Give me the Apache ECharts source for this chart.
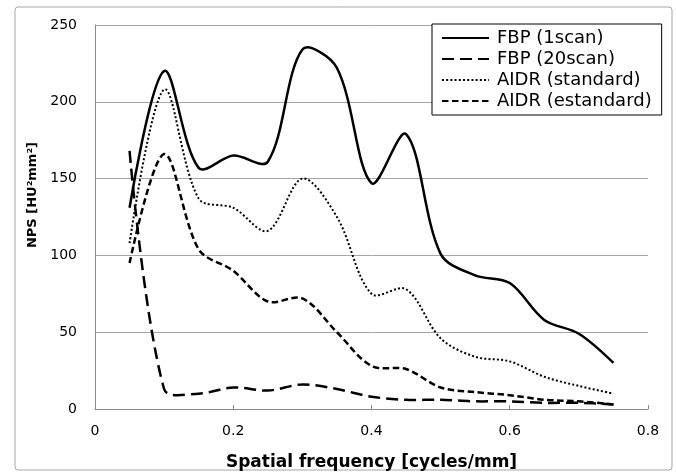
<!DOCTYPE html>
<html>
<head>
<meta charset="utf-8">
<script src="https://cdn.jsdelivr.net/npm/echarts@6/dist/echarts.min.js"></script>
<style>
    html,body{margin:0;padding:0;background:#fff;}
    #chart{width:676px;height:474px;}
</style>
</head>
<body>
<div id="chart"></div>
<script>
// 空间频率 (cycles/mm)
var freq=[0.05,0.10,0.15,0.20,0.25,0.30,0.35,0.40,0.45,0.50,0.55,0.60,0.65,0.70,0.75];
// NPS 各序列
var fbp1=[131,220,157,165,161,234,222,147,179,101,87,82,58,49,30];
var fbp20=[168,13,10,14,12,16,13,8,6,6,5,5,4,4,3];
var aidrStd=[108,208,137,131,116,150,125,75,78,46,34,31,21,15,10];
var aidrEst=[95,166,104,90,70,72,50,28,26,14,11,9,6,5,3];
var xTicks=[0,0.2,0.4,0.6,0.8];
var yTicks=[0,50,100,150,200,250];

var font='"DejaVu Sans", sans-serif';

function pairs(vals){
    return freq.map(function(f,i){return [f,vals[i]];});
};

/*
 * 图例用的空折线
 */
function legendLine(name,dash,width){
    return {
        name:name,
        type:'line',
        data:[],
        symbol:'none',
        lineStyle:{color:'#000',width:width,type:dash},
        itemStyle:{color:'#000'}
    };
};

/*
 * 平滑曲线 (Excel 式, 不截断极值)
 */
function curve(vals,dash,width){
    return {
        type:'custom',
        data:pairs(vals),
        silent:true,
        renderItem:function(params,api){
            if(params.dataIndex!==0){
                return null;
            };
            var pts=freq.map(function(f,i){return api.coord([f,vals[i]]);});
            return {
                type:'polyline',
                shape:{points:pts,smooth:0.33},
                style:{stroke:'#000',fill:null,lineWidth:width,lineDash:dash==='solid'?null:dash}
            };
        }
    };
};

var styles={
    'FBP (1scan)':[fbp1,'solid',2.5],
    'FBP (20scan)':[fbp20,[12,6],2.5],
    'AIDR (standard)':[aidrStd,[2,2.2],2],
    'AIDR (estandard)':[aidrEst,[6.5,3.5],2.5]
};
var names=Object.keys(styles);
var series=[];
names.forEach(function(n){
    var s=styles[n];
    series.push(legendLine(n,s[1],s[2]));
    series.push(curve(s[0],s[1],s[2]));
});

var myChart=echarts.init(document.getElementById('chart'));
myChart.setOption({
    animation:false,
    backgroundColor:'#fff',
    graphic:[{
        type:'rect',
        shape:{x:15,y:7,width:657,height:463,r:3},
        style:{fill:'none',stroke:'#a6a6a6',lineWidth:1},
        silent:true,
        z:-1
    }],
    grid:{left:95,right:28,top:25,bottom:65,containLabel:false,outerBoundsMode:'none'},
    legend:{
        orient:'vertical',
        left:432,
        top:24,
        backgroundColor:'#fff',
        borderColor:'#000',
        borderWidth:1,
        borderRadius:0,
        padding:[5,10,5,9],
        itemGap:3,
        itemWidth:47,
        itemHeight:14,
        itemStyle:{opacity:0},
        textStyle:{fontFamily:font,fontSize:18,lineHeight:18,color:'#000',padding:[0,0,0,3]},
        data:names
    },
    xAxis:{
        type:'value',
        min:0,
        max:0.8,
        interval:0.2,
        name:'Spatial frequency [cycles/mm]',
        nameLocation:'middle',
        nameGap:45,
        nameTextStyle:{fontFamily:font,fontSize:17,fontWeight:'bold',color:'#000'},
        axisLine:{onZero:false,lineStyle:{color:'#898989',width:1}},
        axisTick:{show:true,inside:true,length:4,lineStyle:{color:'#898989'}},
        splitLine:{show:false},
        axisLabel:{
            fontFamily:font,fontSize:14,color:'#000',margin:15,
            formatter:function(v){
                var i=xTicks.indexOf(Math.round(v*10)/10);
                return i<0?'':String(xTicks[i]);
            }
        }
    },
    yAxis:{
        type:'value',
        min:0,
        max:250,
        interval:50,
        name:'NPS [HU²mm²]',
        nameLocation:'middle',
        nameGap:53,
        nameRotate:90,
        nameTextStyle:{fontFamily:font,fontSize:13,fontWeight:'bold',color:'#000',padding:[0,0,0,44]},
        axisLine:{show:true,lineStyle:{color:'#898989',width:1}},
        axisTick:{show:false},
        splitLine:{show:true,lineStyle:{color:'#a6a6a6',width:1}},
        axisLabel:{
            fontFamily:font,fontSize:14,color:'#000',margin:18,
            formatter:function(v){
                return yTicks.indexOf(v)<0?'':String(v);
            }
        }
    },
    series:series
});
</script>
</body>
</html>
